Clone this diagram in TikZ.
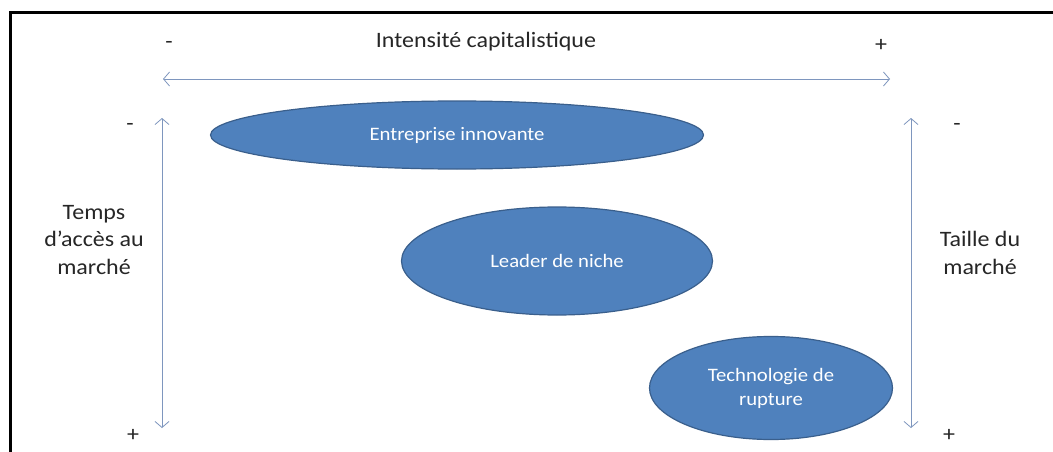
\documentclass[tikz,border=0pt]{standalone}
\usepackage{fontspec}
\setmainfont{Carlito}[FakeStretch=1.09]
\usetikzlibrary{shapes.geometric,arrows.meta}
\definecolor{efill}{HTML}{4F81BD}
\definecolor{edraw}{HTML}{3A5F8C}
\definecolor{axis}{HTML}{7E96BE}
\tikzset{
  blob/.style={ellipse,fill=efill,draw=edraw,line width=1.2pt,inner sep=0pt,text=white,font=\fontsize{19}{24}\selectfont,align=center},
  lbl/.style={font=\fontsize{22}{27.5}\selectfont,text=black!85,align=center,inner sep=0pt,anchor=base},
  sgn/.style={font=\fontsize{22}{26}\selectfont,text=black!85,inner sep=0pt},
  axisline/.style={draw=axis,line width=0.8pt,{Straight Barb[length=6pt,width=14pt]}-{Straight Barb[length=6pt,width=14pt]}}
}
\begin{document}
\begin{tikzpicture}[x=1pt,y=-1pt]
\useasboundingbox (0,0) rectangle (1053,452);
\fill[white] (0,0) rectangle (1053,452);
% frame
\coordinate (ftl) at (10.5,12.5);
\coordinate (ftr) at (1060,12.5);
\coordinate (fbl) at (10.5,460);
\draw[line width=2.6pt,black] (ftr) -- (ftl) -- (fbl);
% top axis
\node[lbl] (title) at (486,48) {Intensité capitalistique};
\node[sgn] (tm) at (169,45) {-};
\node[sgn] (tp) at (881,45) {+};
\coordinate (hl) at (163,79);
\coordinate (hr) at (890,79);
\draw[axisline] (hl) -- (hr);
% left axis
\coordinate (lt) at (162,118);
\coordinate (lb) at (162,428);
\draw[axisline] (lt) -- (lb);
\node[sgn] (lm) at (130,127) {-};
\node[sgn] (lp) at (133,435) {+};
\node[lbl] (ltxt) at (94,274) {Temps\\d’accès au\\marché};
% right axis
\coordinate (rt) at (911,118);
\coordinate (rb) at (911,428);
\draw[axisline] (rt) -- (rb);
\node[sgn] (rm) at (957,127) {-};
\node[sgn] (rp) at (949,435) {+};
\node[lbl] (rtxt) at (980,274) {Taille du\\marché};
% ellipses
\node[blob,minimum width=493pt,minimum height=68pt] (e1) at (457,135) {Entreprise innovante};
\node[blob,minimum width=311pt,minimum height=108pt] (e2) at (557,261) {Leader de niche};
\node[blob,minimum width=243pt,minimum height=103pt] (e3) at (771,388) {Technologie de\\rupture};
\end{tikzpicture}
\end{document}
